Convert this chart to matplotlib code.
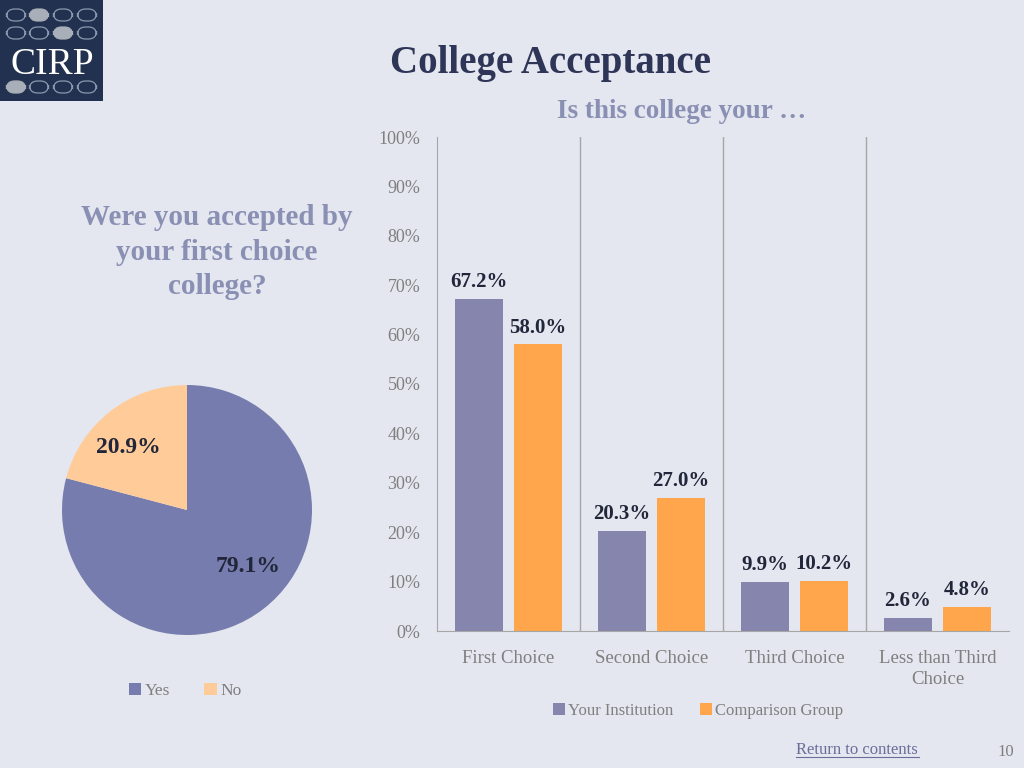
import matplotlib.pyplot as plt
from matplotlib.patches import Rectangle, FancyBboxPatch
import numpy as np

# data
choices = ["First Choice", "Second Choice", "Third Choice", "Less than Third\nChoice"]
your_institution = [67.2, 20.3, 9.9, 2.6]
comparison_group = [58.0, 27.0, 10.2, 4.8]
pie_labels = ["Yes", "No"]
pie_values = [79.1, 20.9]
yticks = [0, 10, 20, 30, 40, 50, 60, 70, 80, 90, 100]

bg = "#E4E7EF"
purple = "#8585AD"
orange = "#FFA64D"
pie_purple = "#767CAD"
pie_orange = "#FFCC99"
navy = "#2E3557"
soft = "#8A8FB4"
grey = "#7F7F7F"
label_dark = "#22263A"

plt.rcParams["font.family"] = ["Liberation Serif", "DejaVu Serif"]

fig = plt.figure(figsize=(10.24, 7.68), dpi=100, facecolor=bg)

W, H = 1024, 768


def fx(px):
    return px / W


def fy(py):
    return 1 - py / H


# logo
fig.patches.append(Rectangle((0, fy(101)), fx(103), 101 / H, transform=fig.transFigure,
                             facecolor="#22314F", edgecolor="none"))
oval_x = [16, 39, 63, 87]
for row_y, filled in [(15, 1), (33, 2), (87, 0)]:
    for i, cx in enumerate(oval_x):
        fc = "#A9AFB8" if i == filled else "none"
        ec = "#A9AFB8" if i == filled else "#8C98AE"
        fig.patches.append(FancyBboxPatch((fx(cx - 9.5), fy(row_y + 6)), fx(19), 12 / H,
                                          boxstyle="round,pad=0,rounding_size=0.0078",
                                          transform=fig.transFigure, facecolor=fc,
                                          edgecolor=ec, linewidth=0.9, mutation_aspect=1.33))
fig.text(fx(52), fy(65), "CIRP", color="white", fontsize=27, ha="center", va="center")

# titles
fig.text(fx(550), fy(64), "College Acceptance", color=navy, fontsize=28,
         fontweight="bold", ha="center", va="center")
fig.text(fx(682), fy(112), "Is this college your …", color=soft, fontsize=19.5,
         fontweight="bold", ha="center", va="center")
fig.text(fx(217), fy(252), "Were you accepted by\nyour first choice\ncollege?", color=soft,
         fontsize=21, fontweight="bold", ha="center", va="center", linespacing=1.38)

# bar chart
ax = fig.add_axes([fx(437), fy(631), fx(1009 - 437), (631 - 137) / H])
ax.set_facecolor(bg)
x = np.arange(len(choices))
w = 0.335
b1 = ax.bar(x - 0.206, your_institution, w, color=purple, label="Your Institution")
b2 = ax.bar(x + 0.206, comparison_group, w, color=orange, label="Comparison Group")
for bars in (b1, b2):
    for r in bars:
        ax.text(r.get_x() + r.get_width() / 2, r.get_height() + 1.4,
                f"{r.get_height():.1f}%", ha="center", va="bottom",
                fontsize=15, fontweight="bold", color=label_dark)
ax.set_xlim(-0.5, len(choices) - 0.5)
ax.set_ylim(0, 100)
ax.set_yticks(yticks)
ax.set_yticklabels([f"{t}%" for t in yticks], color=grey, fontsize=13)
ax.set_xticks(x)
ax.set_xticklabels(choices, color=grey, fontsize=13.5, linespacing=1.3)
ax.tick_params(length=0, axis="y", pad=12)
ax.tick_params(length=0, axis="x", pad=14)
for xv in x[1:] - 0.5:
    ax.axvline(xv, color="#A6A6A6", linewidth=1)
for s in ["top", "right"]:
    ax.spines[s].set_visible(False)
ax.spines["left"].set_color("#A6A6A6")
ax.spines["bottom"].set_color("#A6A6A6")
ax.legend(loc="center", bbox_to_anchor=(fx(698), fy(711)), bbox_transform=fig.transFigure,
          ncol=2, frameon=False, fontsize=12, handlelength=0.7, handleheight=0.7,
          handletextpad=0.2, columnspacing=1.6, labelcolor=grey)

# pie
pax = fig.add_axes([fx(62), fy(635), fx(250), 250 / H])
wedges, _ = pax.pie(pie_values, colors=[pie_purple, pie_orange], startangle=90,
                    counterclock=False, radius=1)
pax.set_xlim(-1, 1)
pax.set_ylim(-1, 1)
pax.set_aspect("equal")
pax.text(-0.47, 0.5, f"{pie_values[1]:.1f}%", ha="center", va="center",
         fontsize=17, fontweight="bold", color=label_dark)
pax.text(0.49, -0.45, f"{pie_values[0]:.1f}%", ha="center", va="center",
         fontsize=17, fontweight="bold", color=label_dark)
pax.legend(wedges, pie_labels, loc="center", bbox_to_anchor=(fx(185), fy(691)),
           bbox_transform=fig.transFigure, ncol=2, frameon=False, fontsize=12.5,
           handlelength=0.7, handleheight=0.7, handletextpad=0.2, columnspacing=2.0,
           labelcolor=grey)

# footer
fig.text(fx(857), fy(750), "Return to contents", color="#6A6E99", fontsize=12,
         ha="center", va="center")
fig.add_artist(plt.Line2D([fx(796), fx(919)], [fy(757), fy(757)], color="#6A6E99",
                          linewidth=0.8, transform=fig.transFigure))
fig.text(fx(1006), fy(752), "10", color=grey, fontsize=12, ha="center", va="center")

fig.savefig("out.png", dpi=100, facecolor=bg)
